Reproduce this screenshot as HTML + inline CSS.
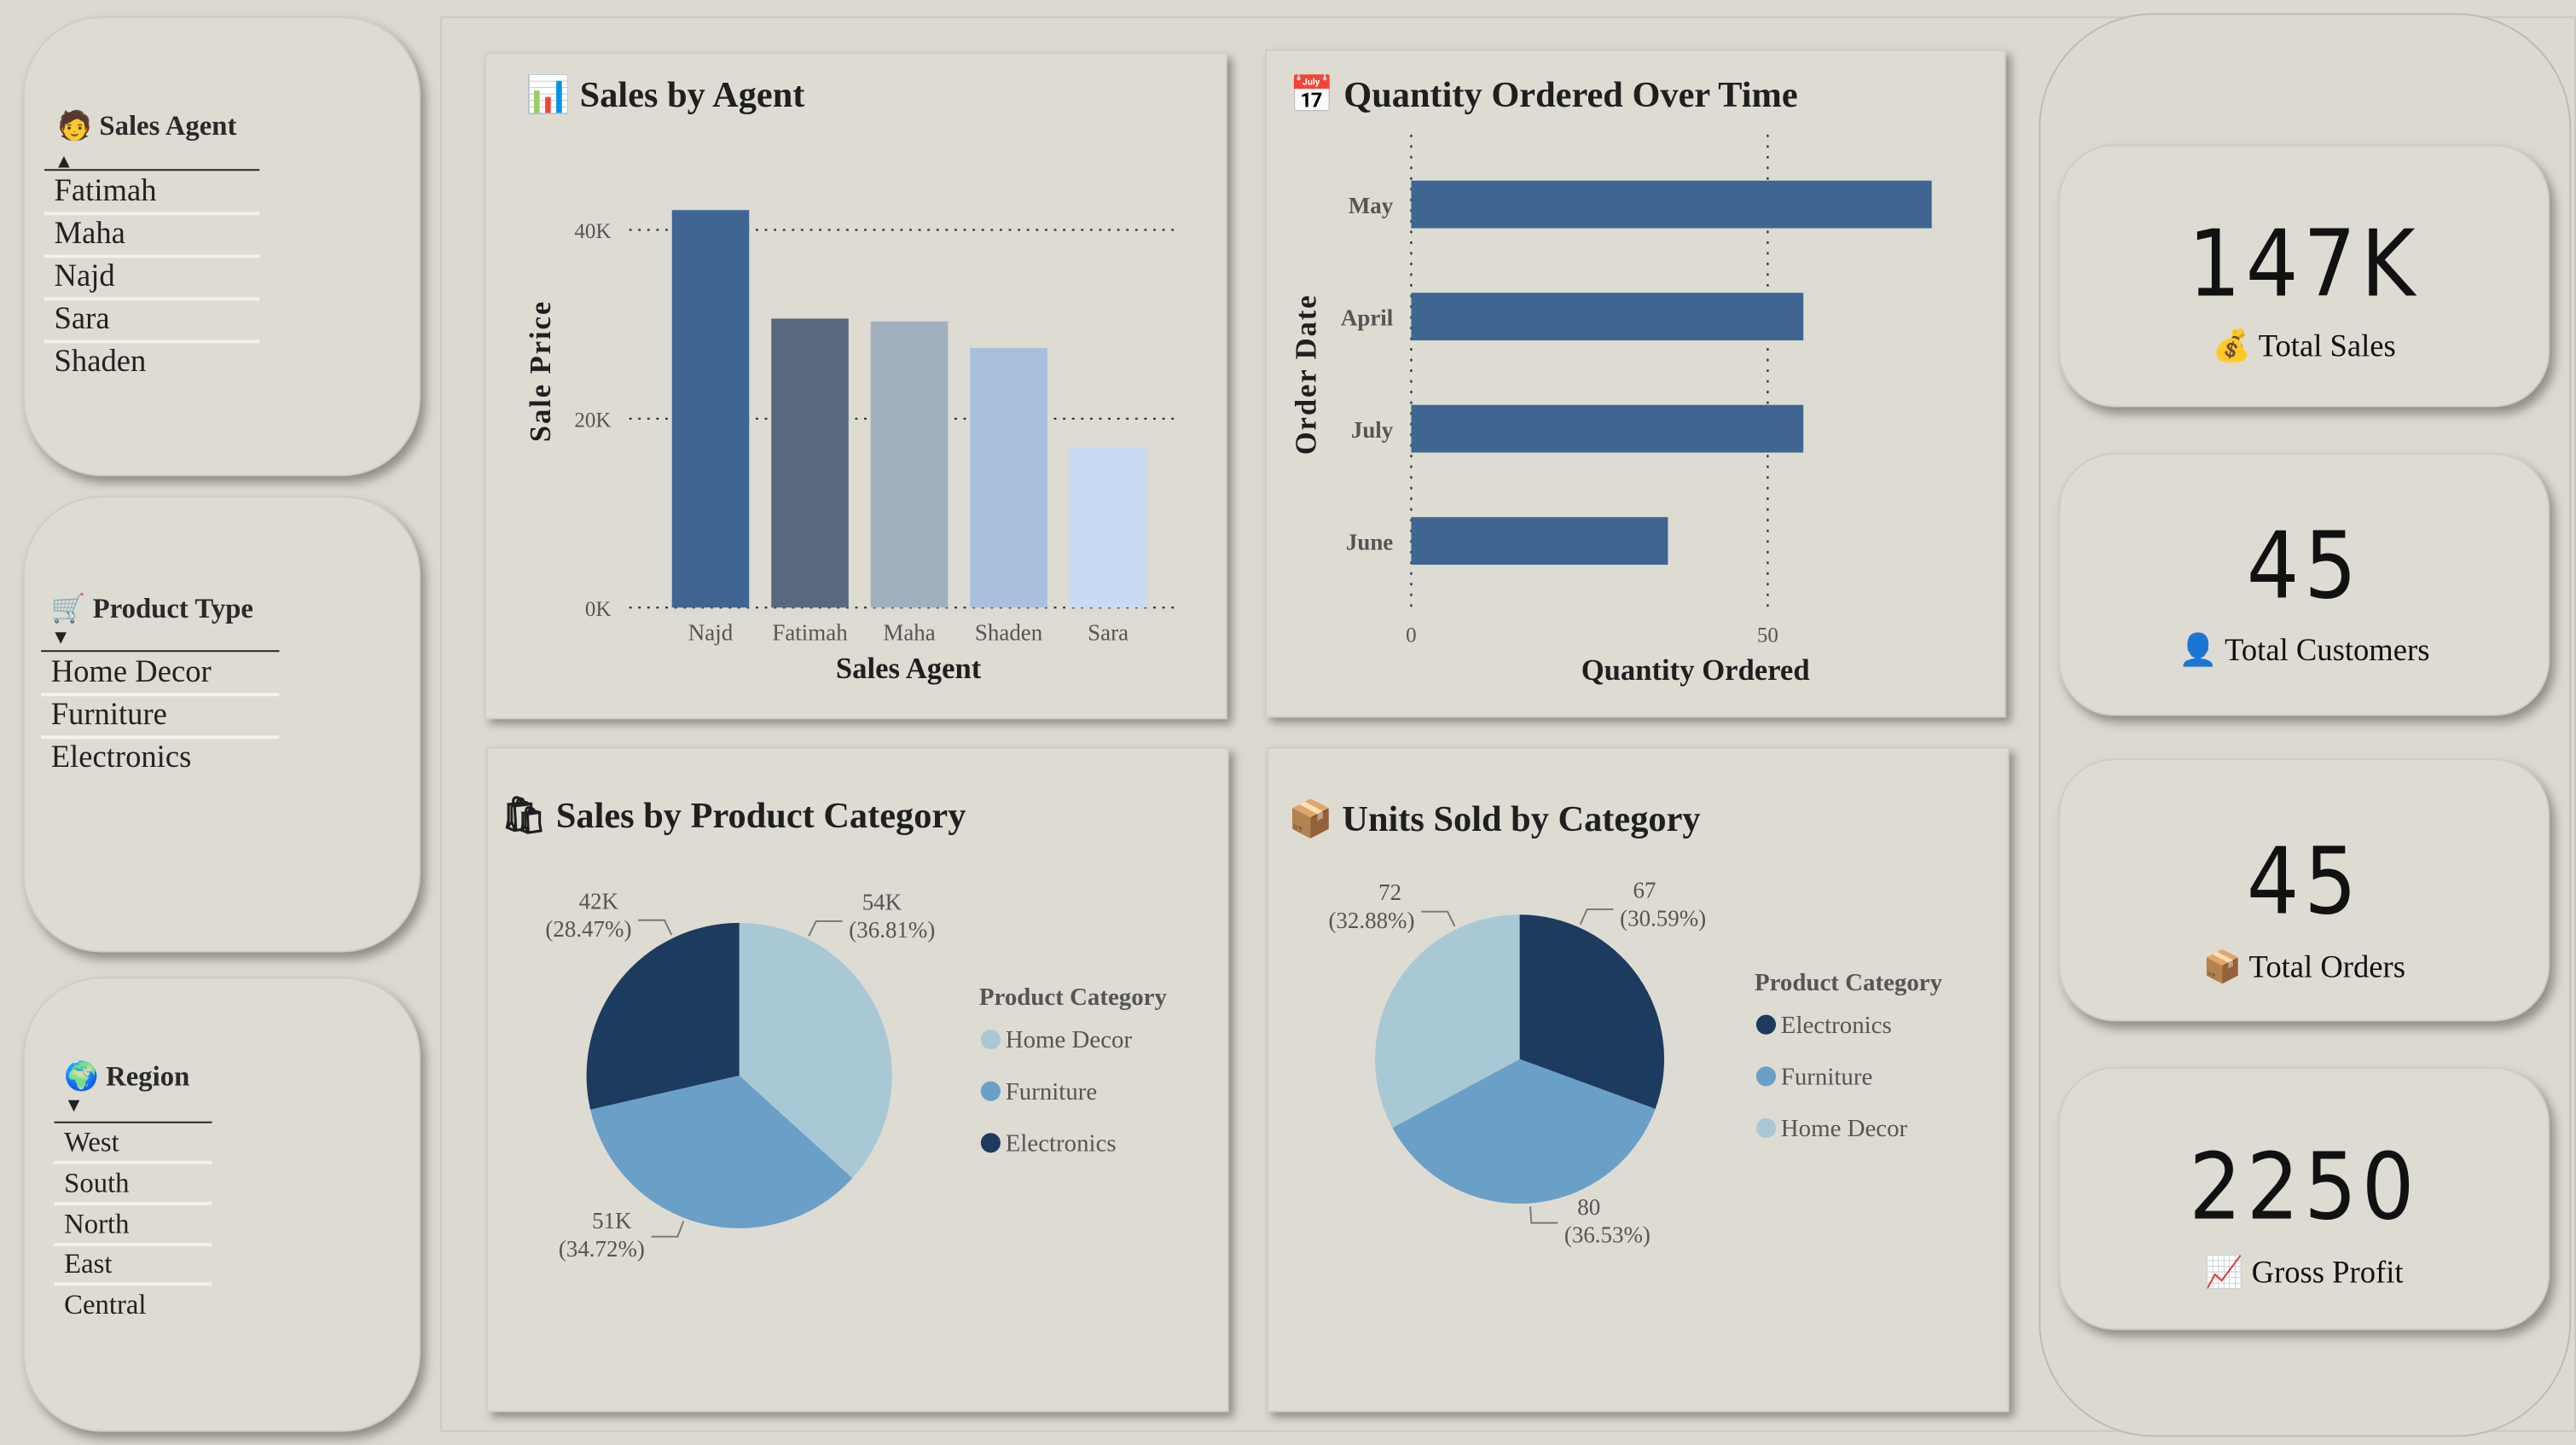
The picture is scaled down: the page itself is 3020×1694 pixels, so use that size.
<!DOCTYPE html>
<html><head><meta charset="utf-8"><style>
html,body{margin:0;padding:0;width:3020px;height:1694px;overflow:hidden;background:#dcd9d0;}
#wrap{position:absolute;left:0;top:0;width:1568px;height:880px;transform:scale(1.92602,1.925);transform-origin:0 0;font-family:"Liberation Serif",serif;color:#222;}
.abs{position:absolute;box-sizing:border-box;}
.slicer{background:#dedbd3;border-radius:48px;box-shadow:3px 4px 6px rgba(0,0,0,.35);border:1px solid #cfccc3;}
.stitle{position:absolute;font-weight:bold;font-size:17px;color:#2a2a2a;}
.item{position:absolute;font-size:19px;color:#222;border-bottom:2px solid #f4f2ee;box-sizing:border-box;padding-left:6px;height:26px;line-height:24px;}
.card{background:#dedbd3;box-shadow:3px 3px 5px rgba(0,0,0,.35);border:1px solid #d0cdc4;}
.ctitle{position:absolute;font-weight:bold;font-size:22px;color:#1f1f1f;white-space:nowrap;}
.kpi{background:#dedbd3;border-radius:34px;box-shadow:3px 4px 6px rgba(0,0,0,.35);border:1px solid #cfccc3;text-align:center;}
.kv{position:absolute;left:0;right:0;font-family:"DejaVu Sans Condensed","DejaVu Sans","Liberation Sans",sans-serif;font-stretch:condensed;font-size:56px;letter-spacing:3px;color:#111;}
.kl{position:absolute;left:0;right:0;font-size:19px;color:#111;}
svg text{font-family:"Liberation Serif",serif;}
</style></head><body>
<div id="wrap">
<div class="abs" style="left:268px;top:10px;width:1300px;height:862px;border:1px solid #cac7bd;background:#dcd9d0;"></div>

<div class="abs slicer" style="left:14px;top:10px;width:242px;height:280px;">
  <div class="stitle" style="left:20px;top:56px;">🧑 Sales Agent</div>
  <div class="abs" style="left:18px;top:80px;font-size:12px;">▲</div>
  <div class="abs" style="left:12px;top:92px;width:131px;border-top:1.5px solid #222;"></div>
  <div class="item" style="left:12px;top:94px;width:131px;">Fatimah</div>
  <div class="item" style="left:12px;top:120px;width:131px;">Maha</div>
  <div class="item" style="left:12px;top:146px;width:131px;">Najd</div>
  <div class="item" style="left:12px;top:172px;width:131px;">Sara</div>
  <div class="item" style="left:12px;top:198px;width:131px;border:none;">Shaden</div>
</div>
<div class="abs slicer" style="left:14px;top:302px;width:242px;height:278px;">
  <div class="stitle" style="left:16px;top:58px;">🛒 Product Type</div>
  <div class="abs" style="left:16px;top:78px;font-size:12px;">▼</div>
  <div class="abs" style="left:10px;top:93px;width:145px;border-top:1.5px solid #222;"></div>
  <div class="item" style="left:10px;top:95px;width:145px;">Home Decor</div>
  <div class="item" style="left:10px;top:121px;width:145px;">Furniture</div>
  <div class="item" style="left:10px;top:147px;width:145px;border:none;">Electronics</div>
</div>
<div class="abs slicer" style="left:14px;top:595px;width:242px;height:277px;">
  <div class="stitle" style="left:24px;top:50px;">🌍 Region</div>
  <div class="abs" style="left:24px;top:70px;font-size:12px;">▼</div>
  <div class="abs" style="left:18px;top:87px;width:96px;border-top:1.5px solid #222;"></div>
  <div class="item" style="left:18px;top:88px;width:96px;height:25px;font-size:17px;">West</div>
  <div class="item" style="left:18px;top:113px;width:96px;height:25px;font-size:17px;">South</div>
  <div class="item" style="left:18px;top:138px;width:96px;height:25px;font-size:17px;">North</div>
  <div class="item" style="left:18px;top:162px;width:96px;height:25px;font-size:17px;">East</div>
  <div class="item" style="left:18px;top:187px;width:96px;height:25px;font-size:17px;border:none;">Central</div>
</div>

<div class="abs card" style="left:295px;top:32px;width:452px;height:406px;">
  <div class="ctitle" style="left:24px;top:12px;">📊 Sales by Agent</div>
</div>
<div class="abs card" style="left:770px;top:30px;width:451px;height:407px;">
  <div class="ctitle" style="left:14px;top:14px;">📅 Quantity Ordered Over Time</div>
</div>
<div class="abs card" style="left:296px;top:455px;width:452px;height:405px;">
  <div class="ctitle" style="left:8px;top:28px;">🛍 Sales by Product Category</div>
</div>
<div class="abs card" style="left:771px;top:455px;width:452px;height:405px;">
  <div class="ctitle" style="left:12px;top:30px;">📦 Units Sold by Category</div>
</div>

<svg id="charts" class="abs" style="left:0;top:0;" width="1568" height="880"></svg>

<div class="abs" style="left:1241px;top:8px;width:324px;height:867px;border-radius:70px;border:1px solid #bdbab1;background:#dcd9d0;"></div>
<div class="abs kpi" style="left:1253px;top:88px;width:299px;height:160px;">
  <div class="kv" style="top:40px;">147K</div>
  <div class="kl" style="top:110px;">💰 Total Sales</div>
</div>
<div class="abs kpi" style="left:1253px;top:276px;width:299px;height:160px;">
  <div class="kv" style="top:36px;">45</div>
  <div class="kl" style="top:107px;">👤 Total Customers</div>
</div>
<div class="abs kpi" style="left:1253px;top:462px;width:299px;height:160px;">
  <div class="kv" style="top:42px;">45</div>
  <div class="kl" style="top:114px;">📦 Total Orders</div>
</div>
<div class="abs kpi" style="left:1253px;top:650px;width:299px;height:160px;">
  <div class="kv" style="top:40px;">2250</div>
  <div class="kl" style="top:112px;">📈 Gross Profit</div>
</div>
</div>

<script>
const agents=["Najd","Fatimah","Maha","Shaden","Sara"];
const agentSales=[42100,30600,30300,27500,16900];
const agentColors=["#3f6592","#57687f","#a0b0bf","#a8bfde","#c9dbf2"];
const salesTicks=[0,20000,40000];
const salesTickLabels=["0K","20K","40K"];
const months=["May","April","July","June"];
const monthQty=[73,55,55,36];
const qtyTicks=[0,50];
const catSalesNames=["Home Decor","Furniture","Electronics"];
const catSalesValues=[54000,51000,42000];
const catSalesLabels=["54K","51K","42K"];
const catSalesPct=["36.81%","34.72%","28.47%"];
const catUnitsNames=["Electronics","Furniture","Home Decor"];
const catUnitsValues=[67,80,72];
const catUnitsPct=["30.59%","36.53%","32.88%"];
const catColor={"Home Decor":"#a8c8d6","Furniture":"#6a9fc8","Electronics":"#1d3a5f"};

const svg=document.getElementById('charts');
const NS="http://www.w3.org/2000/svg";
function mk(tag,attrs,parent){const e=document.createElementNS(NS,tag);for(const k in attrs)e.setAttribute(k,attrs[k]);(parent||svg).appendChild(e);return e;}
function txt(x,y,s,attrs){const e=mk('text',Object.assign({x:x,y:y},attrs||{}));e.textContent=s;return e;}

const yS=v=>370-v*(115/20000);
const bx0=409,bstep=60.5,bw=47;
salesTicks.forEach((t,i)=>{
  const l=mk('line',{x1:383,x2:718,y1:yS(t),y2:yS(t),stroke:"#333","stroke-width":1.2,"stroke-dasharray":"1.5 4"});
  
  const tt=txt(372,yS(t)+5,salesTickLabels[i],{"text-anchor":"end","font-size":13,fill:"#555"});
  
});
agents.forEach((a,i)=>{
  const x=bx0+i*bstep;
  const r=mk('rect',{x:x,y:yS(agentSales[i]),width:bw,height:yS(0)-yS(agentSales[i]),fill:agentColors[i]});
  
  const t=txt(x+bw/2,390,a,{"text-anchor":"middle","font-size":14,fill:"#555"});
  
});
let t1=txt(553,413,"Sales Agent",{"text-anchor":"middle","font-size":18,"font-weight":"bold",fill:"#1f1f1f"});

let t2=txt(0,0,"Sale Price",{"text-anchor":"middle","font-size":18,"font-weight":"bold",fill:"#1f1f1f",transform:"translate(335,226) rotate(-90)","letter-spacing":"1"});


const xQ=v=>859+v*(217/50);
qtyTicks.forEach(t=>{
  const l=mk('line',{x1:xQ(t),x2:xQ(t),y1:82,y2:372,stroke:"#333","stroke-width":1.2,"stroke-dasharray":"1.5 5"});
  
  const tt=txt(xQ(t),391,String(t),{"text-anchor":"middle","font-size":13,fill:"#555"});
  
});
months.forEach((m,i)=>{
  const cy=124+i*68.3;
  const r=mk('rect',{x:xQ(0),y:cy-14,width:xQ(monthQty[i])-xQ(0),height:29,fill:"#3f6592"});
  
  const t=txt(848,cy+6,m,{"text-anchor":"end","font-size":14,"font-weight":"bold",fill:"#555"});
  
});
let t3=txt(1032,414,"Quantity Ordered",{"text-anchor":"middle","font-size":18,"font-weight":"bold",fill:"#1f1f1f"});

let t4=txt(0,0,"Order Date",{"text-anchor":"middle","font-size":18,"font-weight":"bold",fill:"#1f1f1f",transform:"translate(801,228) rotate(-90)","letter-spacing":"1"});


function pie(cx,cy,r,names,values,labels,pcts,prefix,legX,legY,legOrder,fracs){
  const tot=values.reduce((a,b)=>a+b,0);
  let a0=0;
  names.forEach((n,i)=>{
    const a1=a0+values[i]/tot*2*Math.PI;
    const p=(a)=>[cx+r*Math.sin(a),cy-r*Math.cos(a)];
    const s=p(a0),e=p(a1);const large=(a1-a0)>Math.PI?1:0;
    const path=mk('path',{d:`M${cx},${cy} L${s[0]},${s[1]} A${r},${r} 0 ${large} 1 ${e[0]},${e[1]} Z`,fill:catColor[n]});
    
    
    const am=a0+(a1-a0)*fracs[i];const sx=Math.sin(am),cyy=-Math.cos(am);
    const q1=[cx+(r+2)*sx,cy+(r+2)*cyy],q2=[cx+(r+12)*sx,cy+(r+12)*cyy];
    const right=sx>=0;const q3=[q2[0]+(right?16:-16),q2[1]];
    const ld=mk('polyline',{points:`${q1} ${q2} ${q3}`,fill:"none",stroke:"#777","stroke-width":1});
    
    const up=cyy<0;
    const base=q3[0]+(right?4:-4);
    const la=txt(base+(right?8:-8),up?q3[1]-7:q3[1]-5,labels[i],{"text-anchor":right?"start":"end","font-size":14,fill:"#555"});
    
    const lb=txt(base+(right?0:0),up?q3[1]+10:q3[1]+12,"("+pcts[i]+")",{"text-anchor":right?"start":"end","font-size":14,fill:"#555"});
    
    a0=a1;
  });
  const lt=txt(legX,legY,"Product Category",{"font-size":15,"font-weight":"bold",fill:"#555"});
  
  legOrder.forEach((n,i)=>{
    const y=legY+26+i*31.5;
    const c=mk('circle',{cx:legX+7,cy:y-5,r:6,fill:catColor[n]});
    
    const t=txt(legX+16,y,n,{"font-size":15,fill:"#555"});
    
  });
}
pie(450,655,93,catSalesNames,catSalesValues,catSalesLabels,catSalesPct,"sales",596,612,["Home Decor","Furniture","Electronics"],[0.2,0.55,0.75]);
pie(925,645,88,catUnitsNames,catUnitsValues,catUnitsValues.map(String),catUnitsPct,"units",1068,603,["Electronics","Furniture","Home Decor"],[0.22,0.5,0.78]);
</script>
</body></html>
